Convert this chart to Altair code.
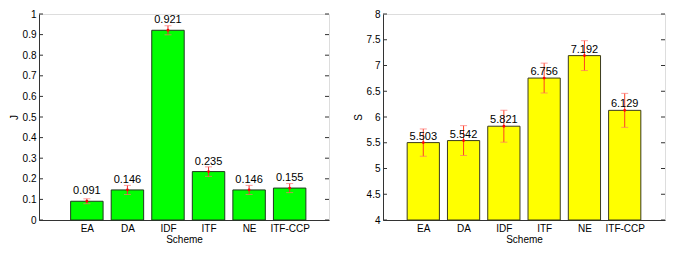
import json
import altair as alt
import pandas as pd

categories = ["EA", "DA", "IDF", "ITF", "NE", "ITF-CCP"]
j_values = [0.091, 0.146, 0.921, 0.235, 0.146, 0.155]
j_errors = [0.012, 0.022, 0.022, 0.023, 0.022, 0.022]
s_values = [5.503, 5.542, 5.821, 6.756, 7.192, 6.129]
s_errors = [0.265, 0.29, 0.31, 0.29, 0.29, 0.33]
j_ticks = [0, 0.1, 0.2, 0.3, 0.4, 0.5, 0.6, 0.7, 0.8, 0.9, 1]
s_ticks = [4, 4.5, 5, 5.5, 6, 6.5, 7, 7.5, 8]

FONT = "Liberation Sans"
FS = 10
label_expr = json.dumps(categories) + "[datum.value - 1]"


def panel(values, errors, ticks, ydom, title, fill, stroke, errcolor, dy, xdom, w, h, fmt):
    df = pd.DataFrame({
        "scheme": categories,
        "idx": list(range(1, len(categories) + 1)),
        "val": values,
        "err": errors,
    })
    tdf = pd.DataFrame({"t": ticks})
    xs = alt.Scale(domain=xdom, nice=False, zero=False)
    ys = alt.Scale(domain=ydom, nice=False, zero=False)
    base = alt.Chart(df).transform_calculate(
        x1="datum.idx - 0.4", x2="datum.idx + 0.4",
        lo="datum.val - datum.err", hi="datum.val + datum.err",
        base=str(ydom[0]), lab=f"format(datum.val, '{fmt}')"
    )
    common = dict(ticks=False, grid=False, domainColor="#333333",
                  labelFont=FONT, titleFont=FONT, labelFontSize=FS, titleFontSize=FS,
                  labelColor="black", titleColor="black", titleFontWeight="normal",
                  labelOverlap=False)
    xaxis = alt.Axis(values=list(range(1, len(categories) + 1)), labelExpr=label_expr,
                     title="Scheme", labelPadding=3, titlePadding=1, **common)
    yaxis = alt.Axis(values=ticks, title=title, titleAngle=-90,
                     labelPadding=3, titlePadding=3, format="~g", **common)
    X = lambda f: alt.X(f, scale=xs, axis=xaxis)
    Y = lambda f: alt.Y(f, scale=ys, axis=yaxis)
    bars = base.mark_bar(color=fill, stroke=stroke, strokeWidth=1).encode(
        x=X("x1:Q"), x2="x2:Q", y=Y("val:Q"), y2="base:Q")
    rule = base.mark_rule(color=errcolor, strokeWidth=1).encode(
        x=X("idx:Q"), y=Y("lo:Q"), y2="hi:Q")
    cap_lo = base.mark_tick(color="#ff7070", orient="horizontal", size=7, thickness=1).encode(
        x=X("idx:Q"), y=Y("lo:Q"))
    cap_hi = base.mark_tick(color="#ff7070", orient="horizontal", size=7, thickness=1).encode(
        x=X("idx:Q"), y=Y("hi:Q"))
    dot = base.mark_point(color="#ff0000", filled=True, size=8, opacity=1).encode(
        x=X("idx:Q"), y=Y("val:Q"))
    text = base.mark_text(font=FONT, fontSize=FS + 1, color="black", baseline="alphabetic",
                          dy=dy).encode(
        x=X("idx:Q"), y=Y("val:Q"), text="lab:N")
    tl = alt.Chart(tdf).mark_rule(color="#333333").encode(
        y=Y("t:Q"), x=alt.value(0), x2=alt.value(4))
    tr = alt.Chart(tdf).mark_rule(color="#333333").encode(
        y=Y("t:Q"), x=alt.value(w - 4), x2=alt.value(w))
    return alt.layer(bars, rule, cap_lo, cap_hi, dot, text, tl, tr).properties(width=w, height=h)


left = panel(j_values, j_errors, j_ticks, [0, 1], "J", "#00ff00", "#1e3a1e", "#e83030", -7,
             [-0.18, 6.97], 290, 206, ".3f")
right = panel(s_values, s_errors, s_ticks, [4, 8], "S", "#ffff00", "#3a3a1e", "#ff4020", -3,
              [0, 7], 282, 206, ".3f")

chart = alt.hconcat(left, right, spacing=22).properties(
    padding={"left": 0, "top": 0, "right": 0, "bottom": 0}
).configure_view(stroke="#333333", strokeWidth=1).configure(background="white")

chart.save("out.html", embed_options={"renderer": "svg", "actions": False})
